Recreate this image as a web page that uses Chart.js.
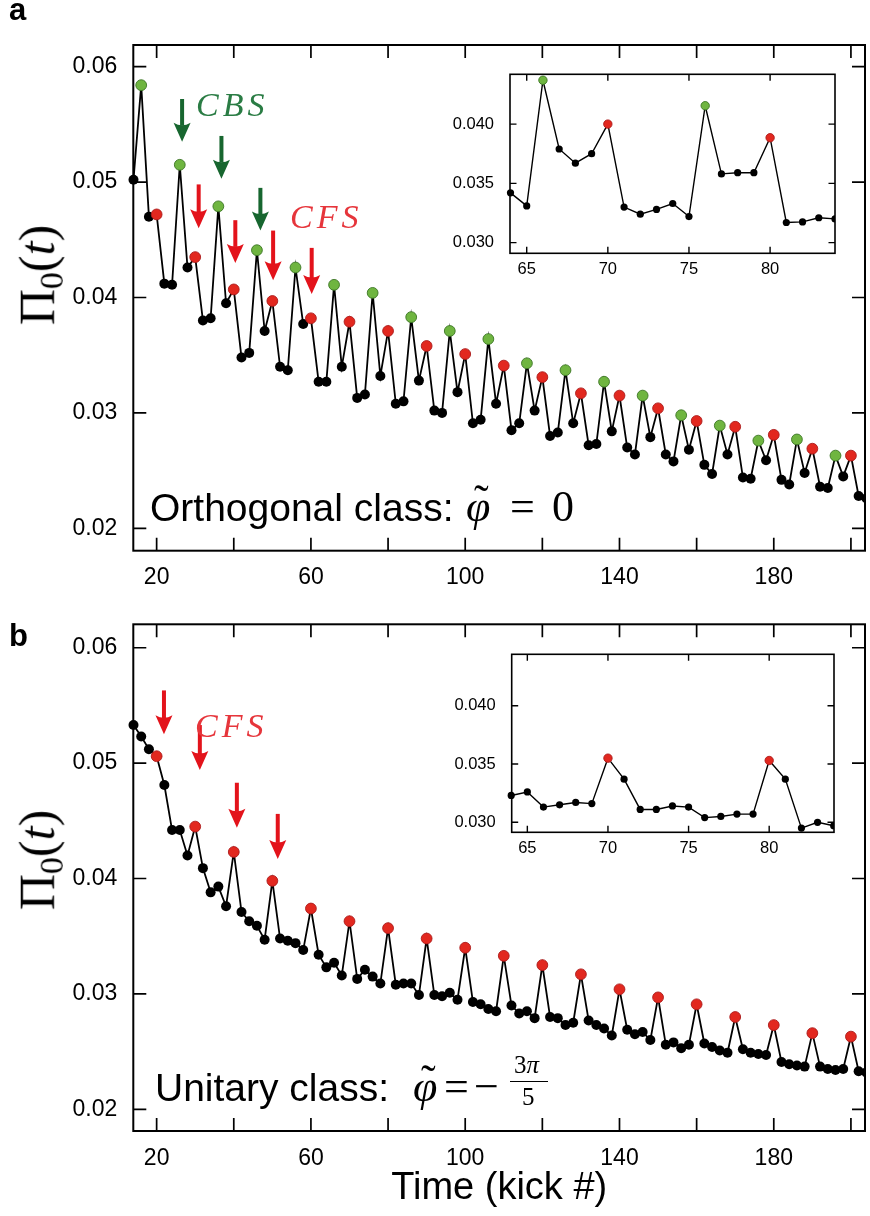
<!DOCTYPE html>
<html>
<head>
<meta charset="utf-8">
<script src="https://cdn.jsdelivr.net/npm/chart.js@4.4.1/dist/chart.umd.min.js"></script>
<style>
body { margin: 0; background: #fff; }
#wrap { position: relative; width: 870px; height: 1216px; overflow: hidden; background: #fff; }
canvas { position: absolute; }
.t { position: absolute; line-height: 0; white-space: nowrap; color: #000; }
.sans { font-family: 'Liberation Sans', Arial, sans-serif; }
.serif { font-family: 'Liberation Serif', 'Times New Roman', serif; }
.bold { font-weight: bold; }
.it { font-style: italic; }
.ytitle { position: absolute; font-family: 'Liberation Serif', serif; font-size: 50px; line-height: 1;
  white-space: nowrap; transform: translate(-50%, -50%) rotate(-90deg); }
.ytitle sub { font-size: 0.68em; vertical-align: -0.25em; }
.bar { position: absolute; height: 0; border-top: 1.6px solid #000; }
</style>
</head>
<body>
<div id="wrap">
  <canvas id="mainA" width="870" height="600" style="left:0;top:0"></canvas>
  <canvas id="insetA" width="420" height="230" style="left:440px;top:50px"></canvas>
  <canvas id="mainB" width="870" height="616" style="left:0;top:600px"></canvas>
  <canvas id="insetB" width="420" height="230" style="left:440px;top:630px"></canvas>
</div>
<script>
// kick numbers shown in the two big panels
var kicks = [14, 16, 18, 20, 22, 24, 26, 28, 30, 32, 34, 36, 38, 40, 42, 44, 46, 48, 50, 52,
  54, 56, 58, 60, 62, 64, 66, 68, 70, 72, 74, 76, 78, 80, 82, 84, 86, 88, 90, 92,
  94, 96, 98, 100, 102, 104, 106, 108, 110, 112, 114, 116, 118, 120, 122, 124, 126, 128, 130, 132,
  134, 136, 138, 140, 142, 144, 146, 148, 150, 152, 154, 156, 158, 160, 162, 164, 166, 168, 170, 172,
  174, 176, 178, 180, 182, 184, 186, 188, 190, 192, 194, 196, 198, 200, 202, 204];

// a: orthogonal class
var orthogonal = [0.0502, 0.0584, 0.0470, 0.0472, 0.0412, 0.0411, 0.0515, 0.0426, 0.0435, 0.0380,
  0.0382, 0.0479, 0.0395, 0.0407, 0.0348, 0.0352, 0.0441, 0.0371, 0.0397, 0.0340,
  0.0337, 0.0426, 0.0377, 0.0382, 0.0327, 0.0327, 0.0411, 0.0340, 0.0379, 0.0313,
  0.0316, 0.0404, 0.0332, 0.0371, 0.0308, 0.0310, 0.0383, 0.0328, 0.0358, 0.0302,
  0.0300, 0.0371, 0.0318, 0.0351, 0.0291, 0.0294, 0.0364, 0.0308, 0.0341, 0.0285,
  0.0291, 0.0343, 0.0302, 0.0331, 0.0280, 0.0283, 0.0337, 0.0291, 0.0317, 0.0272,
  0.0273, 0.0327, 0.0284, 0.0315, 0.0270, 0.0264, 0.0315, 0.0279, 0.0304, 0.0264,
  0.0258, 0.0298, 0.0268, 0.0293, 0.0255, 0.0247, 0.0289, 0.0264, 0.0288, 0.0244,
  0.0243, 0.0276, 0.0259, 0.0281, 0.0242, 0.0238, 0.0277, 0.0248, 0.0269, 0.0236,
  0.0235, 0.0263, 0.0245, 0.0263, 0.0228, 0.0226];

// b: unitary class
var unitary = [0.0533, 0.0523, 0.0512, 0.0506, 0.0481, 0.0442, 0.0442, 0.0420, 0.0445, 0.0409,
  0.0388, 0.0393, 0.0376, 0.0423, 0.0371, 0.0363, 0.0359, 0.0347, 0.0398, 0.0348,
  0.0346, 0.0344, 0.0338, 0.0374, 0.0334, 0.0323, 0.0327, 0.0316, 0.0363, 0.0313,
  0.0321, 0.0315, 0.0309, 0.0357, 0.0308, 0.0309, 0.0309, 0.0299, 0.0348, 0.0299,
  0.0298, 0.0301, 0.0295, 0.0340, 0.0293, 0.0291, 0.0287, 0.0285, 0.0333, 0.0290,
  0.0283, 0.0285, 0.0279, 0.0325, 0.0280, 0.0279, 0.0273, 0.0275, 0.0317, 0.0277,
  0.0273, 0.0270, 0.0264, 0.0304, 0.0269, 0.0265, 0.0267, 0.0260, 0.0297, 0.0256,
  0.0258, 0.0253, 0.0256, 0.0291, 0.0257, 0.0254, 0.0251, 0.0249, 0.0280, 0.0252,
  0.0249, 0.0248, 0.0247, 0.0273, 0.0241, 0.0239, 0.0238, 0.0237, 0.0266, 0.0237,
  0.0235, 0.0234, 0.0235, 0.0263, 0.0233, 0.0232];

// insets, every kick from 64 to 84
var insetKicks = [64, 65, 66, 67, 68, 69, 70, 71, 72, 73, 74, 75, 76, 77, 78, 79, 80, 81, 82, 83, 84];
var insetOrthogonal = [0.0342, 0.0331, 0.0437, 0.0379, 0.0367, 0.0375, 0.0400, 0.0330, 0.0324, 0.0328,
  0.0333, 0.0322, 0.04155, 0.0358, 0.0359, 0.0359, 0.03885, 0.0317, 0.03175, 0.0321, 0.0320];
var insetUnitary = [0.0323, 0.0326, 0.0313, 0.0315, 0.0317, 0.0316, 0.0355, 0.0337, 0.0311, 0.0311,
  0.0314, 0.0313, 0.0304, 0.0305, 0.0307, 0.0307, 0.0353, 0.0337, 0.0295, 0.0300, 0.0297];

var mainXTicks = [20, 40, 60, 80, 100, 120, 140, 160, 180, 200];
var mainXLabels = [20, 60, 100, 140, 180];
var mainYTicks = [0.02, 0.03, 0.04, 0.05, 0.06];
var insetXTicks = [65, 70, 75, 80];
var insetYTicks = [0.030, 0.035, 0.040];

// arrows: kick position, start value, tip value
var arrowsA = [
  { k: 26.6, from: 0.0572, to: 0.0535, c: 'g' },
  { k: 36.8, from: 0.0540, to: 0.0503, c: 'g' },
  { k: 46.9, from: 0.0495, to: 0.0458, c: 'g' },
  { k: 30.9, from: 0.0498, to: 0.0460, c: 'r' },
  { k: 40.4, from: 0.0467, to: 0.0430, c: 'r' },
  { k: 50.2, from: 0.0458, to: 0.0415, c: 'r' },
  { k: 60.2, from: 0.0443, to: 0.0403, c: 'r' }
];
var arrowsB = [
  { k: 21.9, from: 0.0563, to: 0.0525, c: 'r' },
  { k: 31.2, from: 0.0533, to: 0.0494, c: 'r' },
  { k: 40.8, from: 0.0483, to: 0.0444, c: 'r' },
  { k: 51.4, from: 0.0456, to: 0.0417, c: 'r' }
];

var GREEN = '#6fb540', GREEN_EDGE = '#3b7524', RED = '#e2281f', RED_EDGE = '#ab1b1b';
var ARROW = { g: '#17662f', r: '#e3131b' };

Chart.register({
  id: 'frame',
  beforeDraw: function (chart, args, o) {
    if (!o.fill) return;
    var a = chart.chartArea, ctx = chart.ctx;
    ctx.save();
    ctx.fillStyle = '#fff';
    ctx.fillRect(a.left, a.top, a.right - a.left, a.bottom - a.top);
    ctx.restore();
  },
  afterDraw: function (chart, args, o) {
    if (!o.width) return;
    var ctx = chart.ctx, a = chart.chartArea, x = chart.scales.x, y = chart.scales.y;
    ctx.save();
    ctx.strokeStyle = '#000';
    ctx.lineWidth = o.tickWidth;
    ctx.beginPath();
    x.ticks.forEach(function (t) {
      var p = x.getPixelForValue(t.value);
      ctx.moveTo(p, a.bottom); ctx.lineTo(p, a.bottom - o.tick);
      ctx.moveTo(p, a.top); ctx.lineTo(p, a.top + o.tick);
    });
    y.ticks.forEach(function (t) {
      var p = y.getPixelForValue(t.value);
      ctx.moveTo(a.left, p); ctx.lineTo(a.left + o.tick, p);
      ctx.moveTo(a.right, p); ctx.lineTo(a.right - o.tick, p);
    });
    ctx.stroke();
    ctx.lineWidth = o.width;
    ctx.strokeRect(a.left, a.top, a.right - a.left, a.bottom - a.top);
    ctx.restore();
  }
});

Chart.register({
  id: 'arrows',
  afterDatasetsDraw: function (chart, args, o) {
    if (!o.list) return;
    var ctx = chart.ctx, x = chart.scales.x, y = chart.scales.y;
    o.list.forEach(function (ar) {
      var px = x.getPixelForValue(ar.k), y1 = y.getPixelForValue(ar.from), y2 = y.getPixelForValue(ar.to);
      var hl = 19, hw = 8.5;
      ctx.save();
      ctx.fillStyle = ARROW[ar.c];
      ctx.strokeStyle = ARROW[ar.c];
      ctx.lineWidth = 4;
      ctx.beginPath(); ctx.moveTo(px, y1); ctx.lineTo(px, y2 - hl + 3); ctx.stroke();
      ctx.beginPath();
      ctx.moveTo(px - hw, y2 - hl);
      ctx.quadraticCurveTo(px, y2 - hl + 5, px + hw, y2 - hl);
      ctx.lineTo(px, y2);
      ctx.closePath();
      ctx.fill();
      ctx.restore();
    });
  }
});

function fill(m) { return m === 'g' ? GREEN : m === 'r' ? RED : '#000'; }
function edge(m) { return m === 'g' ? GREEN_EDGE : m === 'r' ? RED_EDGE : '#000'; }

function makeChart(id, s) {
  var marks = s.kicks.map(s.mark);
  return new Chart(document.getElementById(id), {
    type: 'line',
    data: {
      datasets: [{
        data: s.kicks.map(function (k, i) { return { x: k, y: s.values[i] }; }),
        borderColor: '#000',
        borderWidth: s.lw,
        tension: 0,
        pointRadius: marks.map(function (m) { return m ? s.rc : s.r; }),
        pointBackgroundColor: marks.map(fill),
        pointBorderColor: marks.map(edge),
        pointBorderWidth: marks.map(function (m) { return m ? 0.9 : 0; }),
        clip: { left: 8, top: 8, right: 0, bottom: 8 }
      }]
    },
    options: {
      responsive: false,
      animation: false,
      layout: { padding: s.pad },
      plugins: {
        legend: { display: false },
        tooltip: { enabled: false },
        frame: s.frame,
        arrows: { list: s.arrows }
      },
      scales: {
        x: {
          type: 'linear', min: s.xMin, max: s.xMax,
          afterBuildTicks: function (sc) { sc.ticks = s.xTicks.map(function (v) { return { value: v }; }); },
          afterFit: function (sc) { sc.height = s.xH; },
          grid: { display: false }, border: { display: false },
          ticks: {
            autoSkip: false, maxRotation: 0, color: '#000', padding: s.xPad,
            font: { family: 'Liberation Sans', size: s.fs, lineHeight: 1 },
            callback: function (v) { return s.xLabels.indexOf(v) >= 0 ? String(v) : ''; }
          },
          title: s.xTitle || { display: false }
        },
        y: {
          type: 'linear', min: s.yMin, max: s.yMax,
          afterBuildTicks: function (sc) { sc.ticks = s.yTicks.map(function (v) { return { value: v }; }); },
          afterFit: function (sc) { sc.width = s.yW; },
          grid: { display: false }, border: { display: false },
          ticks: {
            color: '#000', padding: 8,
            font: { family: 'Liberation Sans', size: s.fs, lineHeight: 1 },
            callback: function (v) { return v.toFixed(s.yDec); }
          }
        }
      }
    }
  });
}

makeChart('mainA', {
  kicks: kicks, values: orthogonal, lw: 1.8, r: 5, rc: 5.4,
  mark: function (k) { return k % 10 === 6 ? 'g' : k % 10 === 0 ? 'r' : ''; },
  pad: { left: 0, top: 45, right: 3.3, bottom: 0 },
  frame: { width: 2, tickWidth: 1.7, tick: 13 },
  arrows: arrowsA,
  xMin: 13.95, xMax: 203.65, xTicks: mainXTicks, xLabels: mainXLabels, xH: 49.3, xPad: 7,
  yMin: 0.01806, yMax: 0.06188, yTicks: mainYTicks, yW: 133.3, yDec: 2, fs: 23
});

makeChart('insetA', {
  kicks: insetKicks, values: insetOrthogonal, lw: 1.4, r: 3.6, rc: 4.2,
  mark: function (k) { return (k === 66 || k === 76) ? 'g' : (k === 70 || k === 80) ? 'r' : ''; },
  pad: { left: 0, top: 24.3, right: 25, bottom: 0 },
  frame: { width: 1.6, tickWidth: 1.4, tick: 6.5, fill: true },
  xMin: 63.97, xMax: 84.0, xTicks: insetXTicks, xLabels: insetXTicks, xH: 26.7, xPad: 0,
  yMin: 0.0291, yMax: 0.0442, yTicks: insetYTicks, yW: 70, yDec: 3, fs: 16.5
});

makeChart('mainB', {
  kicks: kicks, values: unitary, lw: 1.8, r: 5, rc: 5.4,
  mark: function (k) { return k % 10 === 0 ? 'r' : ''; },
  pad: { left: 0, top: 24.3, right: 3.3, bottom: 0 },
  frame: { width: 2, tickWidth: 1.7, tick: 13 },
  arrows: arrowsB,
  xMin: 13.95, xMax: 203.65, xTicks: mainXTicks, xLabels: mainXLabels, xH: 85, xPad: 8.5,
  xTitle: { display: true, text: 'Time (kick #)', color: '#000',
    font: { family: 'Liberation Sans', size: 38, lineHeight: 1.2 }, padding: { top: 0, bottom: 5 } },
  yMin: 0.01812, yMax: 0.06203, yTicks: mainYTicks, yW: 133.3, yDec: 2, fs: 23
});

makeChart('insetB', {
  kicks: insetKicks, values: insetUnitary, lw: 1.4, r: 3.6, rc: 4.2,
  mark: function (k) { return (k === 70 || k === 80) ? 'r' : ''; },
  pad: { left: 0, top: 24.3, right: 26, bottom: 0 },
  frame: { width: 1.6, tickWidth: 1.4, tick: 6.5, fill: true },
  xMin: 64.03, xMax: 84.02, xTicks: insetXTicks, xLabels: insetXTicks, xH: 27.7, xPad: 0,
  yMin: 0.02914, yMax: 0.04441, yTicks: insetYTicks, yW: 71.7, yDec: 3, fs: 16.5
});

// text pieces placed on their baselines
var wrap = document.getElementById('wrap');
function addText(html, x, base, cls, size, color, extra) {
  var d = document.createElement('div');
  var serif = cls.indexOf('serif') >= 0;
  d.className = 't ' + cls;
  d.style.fontSize = size + 'px';
  d.style.left = x + 'px';
  d.style.top = (base - (serif ? 0.3375 : 0.3465) * size) + 'px';
  if (color) d.style.color = color;
  if (extra) d.style.cssText += extra;
  d.innerHTML = html;
  wrap.appendChild(d);
  return d;
}

addText('a', 9, 21, 'sans bold', 31);
addText('b', 9, 647, 'sans bold', 31);

addText('CBS', 196, 116.7, 'serif it', 34, '#2a7c44', 'letter-spacing:4px');
addText('CFS', 290, 228.3, 'serif it', 34, '#e6353b', 'letter-spacing:4px');
addText('CFS', 195, 737, 'serif it', 34, '#e6353b', 'letter-spacing:4px');

addText('Orthogonal class:', 150, 521.7, 'sans', 39);
addText('φ', 466, 521.7, 'serif it', 44);
addText('˜', 474, 516, 'serif', 44);
addText('=', 510, 521.7, 'serif', 44);
addText('0', 552, 521.7, 'serif', 44);

addText('Unitary class:', 155, 1101.7, 'sans', 39);
addText('φ', 413, 1101.7, 'serif it', 44);
addText('˜', 421, 1096, 'serif', 44);
addText('=', 444, 1101.7, 'serif', 44);
addText('&minus;', 474, 1101.7, 'serif', 44);
addText('3<i>π</i>', 514, 1073, 'serif', 25);
addText('5', 522, 1105, 'serif', 25);
var bar = document.createElement('div');
bar.className = 'bar';
bar.style.left = '510px'; bar.style.top = '1081px'; bar.style.width = '38px';
wrap.appendChild(bar);

[275, 860].forEach(function (cy) {
  var d = document.createElement('div');
  d.className = 'ytitle';
  d.style.left = '40px';
  d.style.top = cy + 'px';
  d.innerHTML = 'Π<sub>0</sub>(<i>t</i>)';
  wrap.appendChild(d);
});
</script>
</body>
</html>
